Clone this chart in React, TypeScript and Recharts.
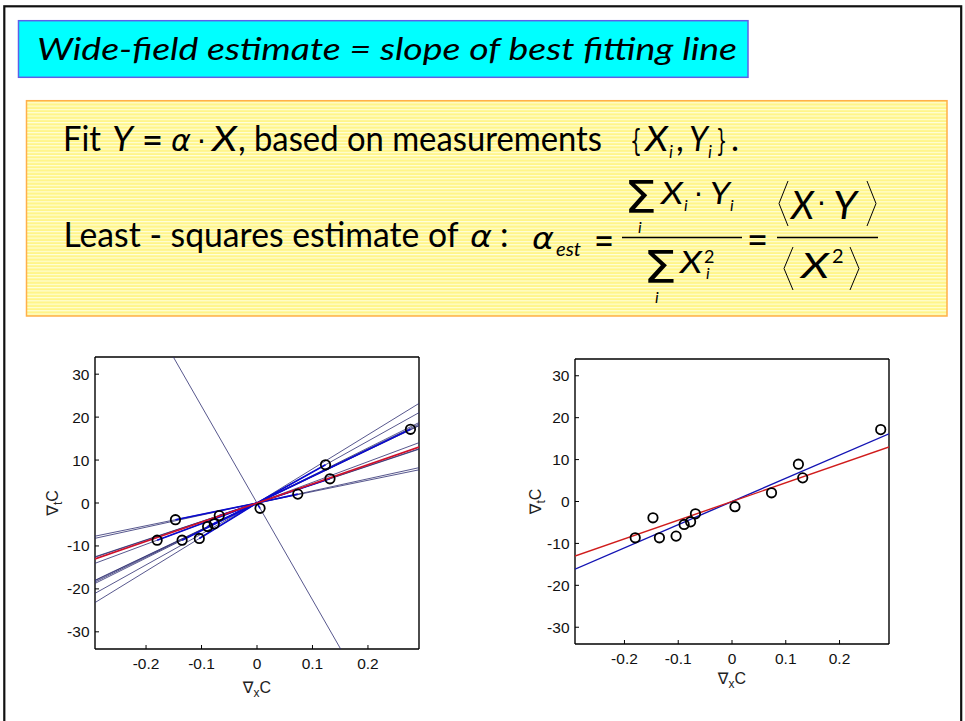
import React from 'react';
import { ComposedChart, Scatter, XAxis, YAxis } from 'recharts';

// ---- data ----
const gradX = [-0.180, -0.147, -0.135, -0.104, -0.089, -0.077, -0.068, 0.0055, 0.0735, 0.1235, 0.1315, 0.2766];
const gradT = [-8.66, -3.89, -8.66, -8.26, -5.48, -4.85, -2.94, -1.24, 2.07, 8.9, 5.64, 17.16];
const redSlope = 44.6; // red reference line slope
const xTicks = [-0.2, -0.1, 0, 0.1, 0.2];
const xTickLabels = ['-0.2', '-0.1', '0', '0.1', '0.2'];
const yTicks = [-30, -20, -10, 0, 10, 20, 30];
const yTickLabels = ['-30', '-20', '-10', '0', '10', '20', '30'];
const X_DOMAIN: [number, number] = [-0.292, 0.292];
const Y_DOMAIN: [number, number] = [-34, 34];

const points = gradX.map((x, i) => ({ x, y: gradT[i] }));
const lsSlope =
  gradX.reduce((s, x, i) => s + x * gradT[i], 0) / gradX.reduce((s, x) => s + x * x, 0);

function throughOrigin(k: number) {
  const xe = Math.min(X_DOMAIN[1], Y_DOMAIN[1] / Math.abs(k));
  return [
    { x: -xe, y: -k * xe },
    { x: xe, y: k * xe },
  ];
}

const AX_FONT = "'Liberation Sans', Arial, 'DejaVu Sans', sans-serif";
const Ring = (p: any) => (
  <circle cx={p.cx} cy={p.cy} r={4.7} fill="none" stroke="#000" strokeWidth={1.8} />
);
const NoDot = () => <g />;

const fmtX = (v: number) => xTickLabels[xTicks.indexOf(v)] ?? String(v);
const fmtY = (v: number) => yTickLabels[yTicks.indexOf(v)] ?? String(v);

function makeXLabel(dy: number) {
  return (props: any) => {
    const vb = props.viewBox || {};
    const cx = vb.x + vb.width / 2;
    const y = vb.y + dy;
    return (
      <text x={cx} y={y} textAnchor="middle" fontSize={16} fontFamily={AX_FONT} fill="#222">
        ∇<tspan fontSize={12} dy={4}>x</tspan>
        <tspan dy={-4}>C</tspan>
      </text>
    );
  };
}
function makeYLabel(dx: number) {
  return (props: any) => {
    const vb = props.viewBox || {};
    const x = vb.x + dx;
    const cy = vb.y + vb.height / 2;
    return (
      <text x={x} y={cy} textAnchor="middle" fontSize={16} fontFamily={AX_FONT} fill="#222"
        transform={`rotate(-90 ${x} ${cy})`}>
        ∇<tspan fontSize={12} dy={4}>t</tspan>
        <tspan dy={-4}>C</tspan>
      </text>
    );
  };
}

type PlotProps = {
  width: number;
  height: number;
  top: number;
  xTickMargin: number;
  xLabelDy: number;
  yLabelDx: number;
  children: React.ReactNode;
};

function Plot({ width, height, top, xTickMargin, xLabelDy, yLabelDx, children }: PlotProps) {
  const axisLine = { stroke: '#000', strokeWidth: 1.4 };
  const tickLine = { stroke: '#000', strokeWidth: 1 };
  const tick = { fill: '#111', fontSize: 15.5, fontFamily: AX_FONT };
  return (
    <ComposedChart width={width} height={height} margin={{ top, right: 0, bottom: 0, left: 0 }}>
      <XAxis xAxisId="b" type="number" dataKey="x" domain={X_DOMAIN} allowDataOverflow ticks={xTicks}
        interval={0} tickFormatter={fmtX} orientation="bottom" height={60} tickSize={-4}
        tickMargin={xTickMargin} axisLine={axisLine} tickLine={tickLine} tick={tick}
        label={makeXLabel(xLabelDy)} />
      <XAxis xAxisId="t" type="number" dataKey="x" domain={X_DOMAIN} allowDataOverflow ticks={xTicks}
        interval={0} orientation="top" height={1} tickSize={-4} tick={false}
        axisLine={axisLine} tickLine={tickLine} />
      <YAxis yAxisId="l" type="number" dataKey="y" domain={Y_DOMAIN} allowDataOverflow ticks={yTicks}
        interval={0} tickFormatter={fmtY} orientation="left" width={75} tickSize={-4}
        tickMargin={9.5} axisLine={axisLine} tickLine={tickLine} tick={tick}
        label={makeYLabel(yLabelDx)} />
      <YAxis yAxisId="r" type="number" dataKey="y" domain={Y_DOMAIN} allowDataOverflow ticks={yTicks}
        interval={0} orientation="right" width={1} tickSize={-4} tick={false}
        axisLine={axisLine} tickLine={tickLine} />
      {children}
    </ComposedChart>
  );
}

function LeftPlot() {
  return (
    <Plot width={400} height={369} top={16} xTickMargin={13} xLabelDy={43.5} yLabelDx={38}>
      {points.map((p, i) => (
        <Scatter key={'thin' + i} xAxisId="b" yAxisId="l" data={throughOrigin(p.y / p.x)}
          shape={NoDot} line={{ stroke: '#2c2c70', strokeWidth: 0.8 }} isAnimationActive={false}
          legendType="none" />
      ))}
      {points.map((p, i) => (
        <Scatter key={'seg' + i} xAxisId="b" yAxisId="l" data={[{ x: 0, y: 0 }, p]}
          shape={NoDot} line={{ stroke: '#0a0ad0', strokeWidth: 1.6 }} isAnimationActive={false}
          legendType="none" />
      ))}
      <Scatter xAxisId="b" yAxisId="l" data={throughOrigin(redSlope)} shape={NoDot}
        line={{ stroke: '#d0102a', strokeWidth: 1.6 }} isAnimationActive={false} legendType="none" />
      <Scatter xAxisId="b" yAxisId="l" data={points} shape={Ring} isAnimationActive={false}
        legendType="none" />
    </Plot>
  );
}

function RightPlot() {
  return (
    <Plot width={390} height={364} top={18} xTickMargin={12.5} xLabelDy={39.5} yLabelDx={41}>
      <Scatter xAxisId="b" yAxisId="l" data={throughOrigin(lsSlope)} shape={NoDot}
        line={{ stroke: '#1414b4', strokeWidth: 1.4 }} isAnimationActive={false} legendType="none" />
      <Scatter xAxisId="b" yAxisId="l" data={throughOrigin(redSlope)} shape={NoDot}
        line={{ stroke: '#d01c1c', strokeWidth: 1.4 }} isAnimationActive={false} legendType="none" />
      <Scatter xAxisId="b" yAxisId="l" data={points} shape={Ring} isAnimationActive={false}
        legendType="none" />
    </Plot>
  );
}

const TXT = "Lato, 'Open Sans', 'DejaVu Sans', sans-serif";
const MATH = "'DejaVu Sans', sans-serif";

// a positioned piece inside a shared <text>
function S(props: any) {
  const { children, it, math, fs = 34, ...rest } = props;
  return (
    <tspan fontFamily={math ? MATH : TXT} fontStyle={it ? 'italic' : 'normal'} fontSize={fs}
      lengthAdjust="spacingAndGlyphs" {...rest}>
      {children}
    </tspan>
  );
}

function Slide() {
  return (
    <svg width={965} height={721} style={{ position: 'absolute', left: 0, top: 0 }}>
      <defs>
        <pattern id="stripes" patternUnits="userSpaceOnUse" width="10" height="3.3">
          <rect width="10" height="3.3" fill="#FFF58A" />
          <rect width="10" height="1.1" fill="#FFFFDA" />
        </pattern>
      </defs>
      <rect x={4.3} y={6.3} width={956.9} height={740} fill="none" stroke="#111" strokeWidth={2.2} />
      <rect x={18.5} y={20.7} width={729.5} height={56.6} fill="#00FFFF" stroke="#5F5FE8" strokeWidth={1.5} />
      <text x={37} y={60} fontFamily={TXT} fontStyle="italic" fontSize={31} fill="#000"
        textLength={700} lengthAdjust="spacingAndGlyphs">
        Wide-field estimate = slope of best fitting line
      </text>

      <rect x={26.5} y={100.7} width={920.5} height={215.3} fill="url(#stripes)" stroke="#FFB04A" strokeWidth={1.5} />

      {/* line 1 */}
      <text fill="#000">
        <S x={63} y={151} textLength={38}>Fit</S>
        <S it x={112} y={151} textLength={21}>Y</S>
        <S math x={142} y={151} fs={32} textLength={21}>=</S>
        <S math it x={171} y={151} fs={30} textLength={20}>α</S>
        <S math x={197} y={151} fs={28}>·</S>
        <S it x={212} y={151} textLength={25}>X</S>
        <S x={238} y={151}>,</S>
        <S x={254} y={151} textLength={348}>based on measurements</S>
        <S math x={630} y={151} fs={30} textLength={12}>{'{'}</S>
        <S it x={645} y={151} textLength={23}>X</S>
        <S it x={669} y={158} fs={17}>i</S>
        <S x={676} y={151}>,</S>
        <S it x={689} y={151} textLength={19}>Y</S>
        <S it x={708} y={158} fs={17}>i</S>
        <S math x={716} y={151} fs={30} textLength={11}>{'}'}</S>
        <S x={731} y={151}>.</S>
      </text>

      {/* line 2 */}
      <text fill="#000">
        <S x={63.5} y={247} textLength={395}>Least - squares estimate of</S>
        <S math it x={470} y={247} fs={30} textLength={22}>α</S>
        <S x={500} y={247}>:</S>
        <S math it x={532} y={249} fs={30} textLength={22}>α</S>
        <S it x={556} y={256} fs={19} textLength={25}>est</S>
        <S math x={594} y={252} fs={34} textLength={20}>=</S>
      </text>

      <line x1={622} x2={742} y1={237.5} y2={237.5} stroke="#000" strokeWidth={1.3} />
      <text fill="#000">
        <S math x={624} y={213} fs={45} textLength={33}>Σ</S>
        <S it x={638} y={233} fs={16}>i</S>
        <S it x={661} y={204} fs={31} textLength={22}>X</S>
        <S it x={684} y={211} fs={16}>i</S>
        <S math x={694} y={204} fs={28}>·</S>
        <S it x={710} y={204} fs={31} textLength={20}>Y</S>
        <S it x={730} y={211} fs={16}>i</S>
      </text>
      <text fill="#000">
        <S math x={643} y={283} fs={45} textLength={34}>Σ</S>
        <S it x={655} y={303} fs={16}>i</S>
        <S it x={680} y={273} fs={31} textLength={22}>X</S>
        <S x={704} y={263} fs={18}>2</S>
        <S it x={706} y={279} fs={16}>i</S>
      </text>

      <text fill="#000">
        <S math x={747} y={251} fs={34} textLength={21}>=</S>
      </text>
      <line x1={777} x2={878} y1={237.5} y2={237.5} stroke="#000" strokeWidth={1.3} />
      <polyline points="788,181 779,203.5 788,226" fill="none" stroke="#000" strokeWidth={1} />
      <text fill="#000">
        <S it x={791} y={219} fs={38} textLength={23}>X</S>
        <S math x={817} y={213} fs={28}>·</S>
        <S it x={833} y={219} fs={38} textLength={24}>Y</S>
      </text>
      <polyline points="867,181 876,203.5 867,226" fill="none" stroke="#000" strokeWidth={1} />
      <polyline points="793,247 784,268.5 793,290" fill="none" stroke="#000" strokeWidth={1} />
      <text fill="#000">
        <S it x={801} y={278} fs={34} textLength={28}>X</S>
        <S x={832} y={263} fs={20}>2</S>
      </text>
      <polyline points="850,247 859,268.5 850,290" fill="none" stroke="#000" strokeWidth={1} />
    </svg>
  );
}

export default function App() {
  return (
    <div style={{ position: 'absolute', left: 0, top: 0, width: 965, height: 721, background: '#fff', overflow: 'hidden' }}>
      <Slide />
      <div style={{ position: 'absolute', left: 20, top: 340 }}>
        <LeftPlot />
      </div>
      <div style={{ position: 'absolute', left: 500, top: 340 }}>
        <RightPlot />
      </div>
    </div>
  );
}
